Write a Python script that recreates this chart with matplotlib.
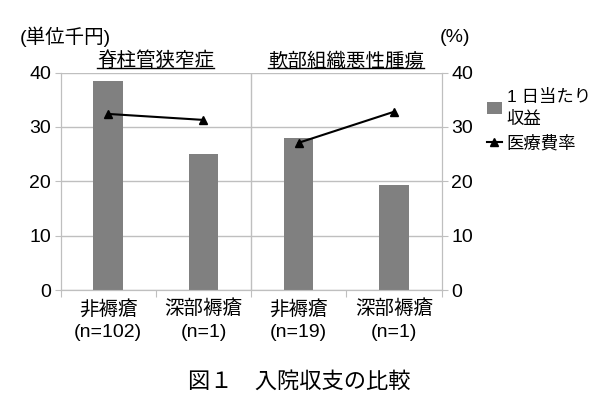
import matplotlib
matplotlib.use('Agg')
import matplotlib.pyplot as plt
from matplotlib.lines import Line2D

plt.rcParams['font.family'] = ['Liberation Sans', 'Noto Sans CJK JP']

# データ
groups = ['脊柱管狭窄症', '軟部組織悪性腫瘍']
categories = ['非褥瘡\n(n=102)', '深部褥瘡\n(n=1)', '非褥瘡\n(n=19)', '深部褥瘡\n(n=1)']
revenue = [38.5, 25.0, 28.0, 19.4]      # 1日当たり収益（千円）
cost_rate = [32.4, 31.3, 27.1, 32.8]    # 医療費率（%）
yticks = [0, 10, 20, 30, 40]

gray = '#808080'
grid_c = '#bfbfbf'

fig = plt.figure(figsize=(6, 4.15), dpi=100)
ax = fig.add_axes([0.101, 0.301, 0.635, 0.524])
ax2 = ax.twinx()

x = list(range(len(categories)))
bars = ax.bar(x, revenue, width=0.31, color=gray, zorder=3)

# 医療費率は疾患ごとに線を分ける
line = None
for i in range(len(groups)):
    xs = x[2 * i:2 * i + 2]
    ys = cost_rate[2 * i:2 * i + 2]
    line, = ax2.plot(xs, ys, color='black', lw=1.5, marker='^', markersize=5.5,
                     zorder=4)

for a in (ax, ax2):
    a.set_ylim(0, 40)
    a.set_yticks(yticks)
    a.tick_params(axis='y', labelsize=14, length=4, color=grid_c, pad=3)
    for s in a.spines.values():
        s.set_color(grid_c)
    a.spines['top'].set_visible(False)
ax.set_xlim(-0.5, 3.5)
ax.yaxis.grid(True, color=grid_c, lw=1)
ax.set_axisbelow(True)
ax.axvline(1.5, color=grid_c, lw=1, zorder=1)

# x軸：境界に目盛り、カテゴリ名は中央に
ax.set_xticks([-0.5, 0.5, 1.5, 2.5, 3.5])
ax.set_xticklabels([])
ax.set_xticks(x, minor=True)
ax.set_xticklabels(categories, minor=True, fontsize=14, linespacing=1.4)
ax.tick_params(axis='x', which='major', length=5, color=grid_c)
ax.tick_params(axis='x', which='minor', length=0, pad=7)

# 軸の単位
fig.text(20 / 600, 1 - 37 / 415, '(単位千円)', fontsize=14, va='center', ha='left')
fig.text(440 / 600, 1 - 37 / 415, '(%)', fontsize=14, va='center', ha='left')

# 疾患名（下線付き）
titles = []
for i, g in enumerate(groups):
    cx = 0.5 + 2 * i
    t = ax.text(cx, 40.4, g, fontsize=14, ha='center', va='bottom',
                transform=ax.transData)
    titles.append(t)

# 凡例
leg = ax.legend([bars, line], ['1 日当たり\n収益', '医療費率'], loc='upper left',
                bbox_to_anchor=(1.1, 0.955), frameon=False, fontsize=12.5,
                handlelength=0.9, handletextpad=0.25, labelspacing=0.45,
                borderaxespad=0)
for t in leg.get_texts():
    t.set_linespacing(1.45)

# 図のタイトル
fig.text(299 / 600, 1 - 382 / 415, '図１　入院収支の比較', fontsize=16,
         ha='center', va='center')

fig.canvas.draw()
r = fig.canvas.get_renderer()
for t in titles:
    bb = t.get_window_extent(renderer=r).transformed(fig.transFigure.inverted())
    fig.add_artist(Line2D([bb.x0, bb.x1], [bb.y0 + 0.006, bb.y0 + 0.006],
                          color='black', lw=1, transform=fig.transFigure))

fig.savefig('out.png', dpi=100)
